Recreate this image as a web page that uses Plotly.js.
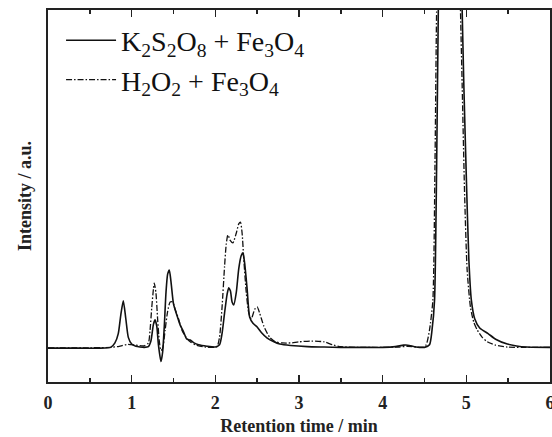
<!DOCTYPE html>
<html>
<head>
<meta charset="utf-8">
<script src="https://cdn.plot.ly/plotly-3.0.1.min.js"></script>
<style>html,body{margin:0;padding:0;background:#fff;}#chart{width:552px;height:437px;}</style>
</head>
<body>
<div id="chart"></div>
<script>
// Retention time (min) and intensity (a.u.)
const timeK2S2O8 = [0, 0.3, 0.6, 0.75, 0.8, 0.84, 0.87, 0.9, 0.93, 0.96, 1.0, 1.05, 1.1, 1.15, 1.2, 1.23, 1.26, 1.28, 1.30, 1.32, 1.35, 1.37, 1.39, 1.41, 1.43, 1.45, 1.47, 1.50, 1.54, 1.58, 1.62, 1.66, 1.70, 1.74, 1.8, 1.9, 2.0, 2.05, 2.08, 2.11, 2.14, 2.16, 2.18, 2.20, 2.22, 2.25, 2.28, 2.31, 2.33, 2.35, 2.38, 2.41, 2.45, 2.50, 2.55, 2.62, 2.70, 2.77, 2.9, 3.1, 3.3, 3.5, 3.8, 4.0, 4.15, 4.25, 4.3, 4.4, 4.5, 4.56, 4.59, 4.62, 4.645, 4.665, 4.7, 4.8, 4.9, 4.95, 4.97, 5.0, 5.03, 5.06, 5.10, 5.16, 5.26, 5.35, 5.49, 5.6, 5.72, 6.0];
const intK2S2O8 = [9.1, 9.1, 9.1, 9.3, 10.5, 13, 18, 21.8, 17, 12, 10.2, 9.6, 9.4, 9.3, 9.5, 11, 15.5, 16.7, 15, 10, 5.5, 8, 15, 24, 29, 30.1, 27, 21, 18, 15.3, 13.5, 11.5, 11.3, 10.6, 10, 9.6, 9.4, 10, 13, 18.5, 23.5, 25.3, 24.5, 21.5, 20.7, 24, 30.5, 34, 34.7, 32, 25, 17.5, 15.8, 14.8, 13.3, 11.8, 10.8, 10.2, 9.8, 9.5, 9.4, 9.3, 9.3, 9.3, 9.5, 9.9, 9.9, 9.4, 9.3, 10, 14, 22, 58, 100, 150, 200, 150, 100, 80, 55, 33, 22, 17, 14.5, 13, 11.5, 10.2, 9.7, 9.4, 9.3];

const timeH2O2 = [0, 0.5, 0.75, 0.85, 0.95, 1.05, 1.15, 1.2, 1.22, 1.24, 1.26, 1.27, 1.29, 1.31, 1.33, 1.35, 1.37, 1.40, 1.43, 1.46, 1.49, 1.52, 1.56, 1.60, 1.65, 1.70, 1.76, 1.85, 1.95, 2.02, 2.05, 2.08, 2.11, 2.13, 2.15, 2.18, 2.21, 2.25, 2.28, 2.30, 2.32, 2.34, 2.37, 2.40, 2.43, 2.47, 2.50, 2.53, 2.58, 2.65, 2.72, 2.8, 2.9, 3.0, 3.15, 3.3, 3.4, 3.5, 3.7, 4.0, 4.2, 4.3, 4.4, 4.48, 4.52, 4.56, 4.60, 4.625, 4.645, 4.7, 4.8, 4.88, 4.93, 4.95, 4.98, 5.01, 5.05, 5.09, 5.13, 5.19, 5.25, 5.35, 5.49, 6.0];
const intH2O2 = [9.2, 9.2, 9.3, 9.6, 10.1, 9.9, 9.7, 10.5, 14, 20, 25, 26.6, 24, 17, 11, 8.5, 9, 14, 19, 21.5, 21.5, 19.5, 17, 14, 12, 10.8, 10, 9.5, 9.3, 9.5, 12, 20, 31, 37, 39.5, 38, 37.4, 40, 42.5, 43, 40, 33, 24, 18.5, 17, 19.5, 20.2, 18.5, 15, 12, 10.8, 10.5, 10.5, 10.8, 11, 10.8, 10, 9.5, 9.3, 9.3, 9.4, 9.6, 9.4, 9.4, 10, 14, 22, 58, 100, 160, 200, 160, 100, 80, 50, 30, 20, 16, 14, 12, 10.8, 9.9, 9.4, 9.3];

const seriesNames = ['K<sub>2</sub>S<sub>2</sub>O<sub>8</sub> + Fe<sub>3</sub>O<sub>4</sub>', 'H<sub>2</sub>O<sub>2</sub> + Fe<sub>3</sub>O<sub>4</sub>'];
const xTickVals = [0, 1, 2, 3, 4, 5, 6];

const serif = 'Liberation Serif, Times New Roman, serif';
const traces = [
  {x: timeK2S2O8, y: intK2S2O8, name: seriesNames[0], mode: 'lines', type: 'scatter',
   line: {color: '#111', width: 1.6, shape: 'spline', smoothing: 0.6}},
  {x: timeH2O2, y: intH2O2, name: seriesNames[1], mode: 'lines', type: 'scatter',
   line: {color: '#111', width: 1.3, dash: '6px,2px,1.5px,2px', shape: 'spline', smoothing: 0.6}}
];
const layout = {
  width: 552, height: 437,
  margin: {l: 48, r: 2, t: 10, b: 55},
  paper_bgcolor: '#fff', plot_bgcolor: '#fff',
  showlegend: true,
  legend: {x: 0.026, y: 0.985, xanchor: 'left', yanchor: 'top', bgcolor: 'rgba(0,0,0,0)',
           font: {family: serif, size: 28, color: '#111'}, tracegroupgap: 0, itemwidth: 50},
  xaxis: {range: [0, 6], tickvals: xTickVals, ticks: 'inside', ticklen: 7, tickwidth: 1.5, tickcolor: '#222',
          minor: {dtick: 0.5, ticks: 'inside', ticklen: 4, tickwidth: 1.5, tickcolor: '#222'},
          showline: true, linecolor: '#222', linewidth: 2, mirror: 'ticks', showgrid: false, zeroline: false,
          ticklabeloverflow: 'allow', ticklabelstandoff: 3,
          tickfont: {family: serif, size: 18, color: '#222', weight: 'bold'},
          title: {text: 'Retention time / min', standoff: 8, font: {family: serif, size: 18, color: '#222', weight: 'bold'}}},
  yaxis: {range: [0, 100], showticklabels: false, ticks: '', showline: true, linecolor: '#222', linewidth: 2,
          mirror: true, showgrid: false, zeroline: false,
          title: {text: 'Intensity / a.u.', standoff: 10, font: {family: serif, size: 18, color: '#222', weight: 'bold'}}}
};
Plotly.newPlot('chart', traces, layout, {displayModeBar: false, staticPlot: true});
</script>
</body>
</html>
